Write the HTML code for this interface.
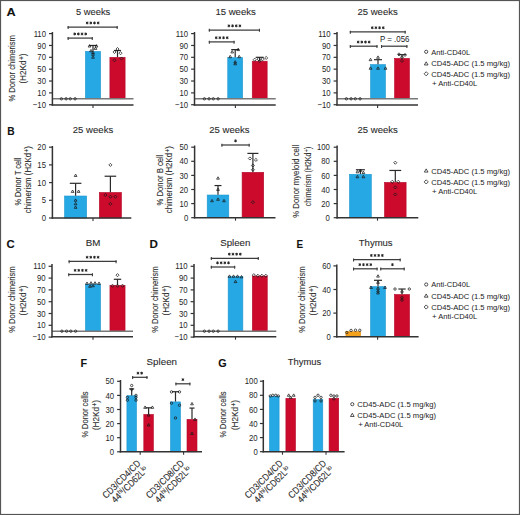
<!DOCTYPE html>
<html><head><meta charset="utf-8"><style>
html,body{margin:0;padding:0;background:#fff;}
svg{display:block;font-family:"Liberation Sans", sans-serif;}
text{stroke:#2a2a2a;stroke-width:0.1px;}
text.lg{stroke:none;fill:#222;}
text.tk{stroke:none;fill:#262626;}
</style></head><body>
<svg width="520" height="515" viewBox="0 0 520 515">
<rect x="0" y="0" width="520" height="515" fill="#fff"/>
<text x="6.60" y="16.10" font-size="11.8" text-anchor="start" font-weight="bold" fill="#111" textLength="9.2" lengthAdjust="spacingAndGlyphs" stroke="#111" stroke-width="0.35">A</text>
<text transform="translate(15.40,68.30) rotate(-90)" x="0" y="0" font-size="9.5" text-anchor="middle" fill="#2a2a2a" textLength="66.5" lengthAdjust="spacingAndGlyphs">% Donor chimerism</text>
<text transform="translate(25.70,68.60) rotate(-90)" x="0" y="0" font-size="9.5" text-anchor="middle" fill="#2a2a2a" textLength="30" lengthAdjust="spacingAndGlyphs">(H2Kd<tspan dx="0.5" dy="-1.9" font-size="7.6">+</tspan><tspan dy="1.9">)</tspan></text>
<text x="93.10" y="14.70" font-size="9.8" text-anchor="middle" font-weight="normal" fill="#2a2a2a" textLength="34.4" lengthAdjust="spacingAndGlyphs">5 weeks</text>
<rect x="85.40" y="51.40" width="15.20" height="47.40" fill="#25a8e4" stroke="#1f97d0" stroke-width="0.6"/>
<rect x="109.90" y="57.33" width="15.20" height="41.47" fill="#cc0a2c" stroke="#b5082a" stroke-width="0.6"/>
<line x1="52.40" y1="98.80" x2="133.50" y2="98.80" stroke="#787878" stroke-width="1.4"/>
<circle cx="61.40" cy="98.80" r="1.2" fill="none" stroke="#1a1a1a" stroke-width="0.75"/>
<circle cx="66.10" cy="98.80" r="1.2" fill="none" stroke="#1a1a1a" stroke-width="0.75"/>
<circle cx="70.30" cy="98.80" r="1.2" fill="none" stroke="#1a1a1a" stroke-width="0.75"/>
<circle cx="75.10" cy="98.80" r="1.2" fill="none" stroke="#1a1a1a" stroke-width="0.75"/>
<line x1="93.00" y1="51.10" x2="93.00" y2="45.47" stroke="#2a2a2a" stroke-width="1.2"/>
<line x1="89.00" y1="45.47" x2="97.00" y2="45.47" stroke="#2a2a2a" stroke-width="1.2"/>
<path d="M89.50 44.63L90.88 47.03L88.12 47.03Z" fill="none" stroke="#1a1a1a" stroke-width="0.75" stroke-linejoin="round"/>
<path d="M96.50 44.63L97.88 47.03L95.12 47.03Z" fill="none" stroke="#1a1a1a" stroke-width="0.75" stroke-linejoin="round"/>
<path d="M95.50 47.00L96.88 49.40L94.12 49.40Z" fill="none" stroke="#1a1a1a" stroke-width="0.75" stroke-linejoin="round"/>
<path d="M91.00 49.37L92.38 51.77L89.62 51.77Z" fill="none" stroke="#1a1a1a" stroke-width="0.75" stroke-linejoin="round"/>
<path d="M93.00 51.14L94.38 53.54L91.62 53.54Z" fill="none" stroke="#1a1a1a" stroke-width="0.75" stroke-linejoin="round"/>
<path d="M93.00 52.92L94.38 55.32L91.62 55.32Z" fill="none" stroke="#1a1a1a" stroke-width="0.75" stroke-linejoin="round"/>
<path d="M93.00 55.88L94.38 58.28L91.62 58.28Z" fill="none" stroke="#1a1a1a" stroke-width="0.75" stroke-linejoin="round"/>
<line x1="117.50" y1="57.03" x2="117.50" y2="50.51" stroke="#2a2a2a" stroke-width="1.2"/>
<line x1="114.00" y1="50.51" x2="121.00" y2="50.51" stroke="#2a2a2a" stroke-width="1.2"/>
<path d="M114.50 50.43L116.06 51.99L114.50 53.55L112.94 51.99Z" fill="none" stroke="#1a1a1a" stroke-width="0.75"/>
<path d="M120.50 51.62L122.06 53.18L120.50 54.74L118.94 53.18Z" fill="none" stroke="#1a1a1a" stroke-width="0.75"/>
<path d="M117.50 47.47L119.06 49.03L117.50 50.59L115.94 49.03Z" fill="none" stroke="#1a1a1a" stroke-width="0.75"/>
<path d="M114.50 58.73L116.06 60.29L114.50 61.85L112.94 60.29Z" fill="none" stroke="#1a1a1a" stroke-width="0.75"/>
<path d="M121.50 56.95L123.06 58.51L121.50 60.07L119.94 58.51Z" fill="none" stroke="#1a1a1a" stroke-width="0.75"/>
<line x1="52.40" y1="32.00" x2="52.40" y2="105.60" stroke="#333333" stroke-width="1.5"/>
<line x1="51.65" y1="104.90" x2="133.50" y2="104.90" stroke="#333333" stroke-width="1.5"/>
<line x1="49.00" y1="104.72" x2="52.40" y2="104.72" stroke="#333333" stroke-width="1.2"/>
<text x="46.00" y="107.82" font-size="9.2" text-anchor="end" font-weight="normal" fill="#2a2a2a" textLength="13.16" lengthAdjust="spacingAndGlyphs" class="tk">−10</text>
<line x1="49.00" y1="92.88" x2="52.40" y2="92.88" stroke="#333333" stroke-width="1.2"/>
<text x="46.00" y="95.97" font-size="9.2" text-anchor="end" font-weight="normal" fill="#2a2a2a" textLength="8.63" lengthAdjust="spacingAndGlyphs" class="tk">10</text>
<line x1="49.00" y1="81.02" x2="52.40" y2="81.02" stroke="#333333" stroke-width="1.2"/>
<text x="46.00" y="84.12" font-size="9.2" text-anchor="end" font-weight="normal" fill="#2a2a2a" textLength="8.63" lengthAdjust="spacingAndGlyphs" class="tk">30</text>
<line x1="49.00" y1="69.17" x2="52.40" y2="69.17" stroke="#333333" stroke-width="1.2"/>
<text x="46.00" y="72.27" font-size="9.2" text-anchor="end" font-weight="normal" fill="#2a2a2a" textLength="8.63" lengthAdjust="spacingAndGlyphs" class="tk">50</text>
<line x1="49.00" y1="57.32" x2="52.40" y2="57.32" stroke="#333333" stroke-width="1.2"/>
<text x="46.00" y="60.42" font-size="9.2" text-anchor="end" font-weight="normal" fill="#2a2a2a" textLength="8.63" lengthAdjust="spacingAndGlyphs" class="tk">70</text>
<line x1="49.00" y1="45.47" x2="52.40" y2="45.47" stroke="#333333" stroke-width="1.2"/>
<text x="46.00" y="48.57" font-size="9.2" text-anchor="end" font-weight="normal" fill="#2a2a2a" textLength="8.63" lengthAdjust="spacingAndGlyphs" class="tk">90</text>
<line x1="49.00" y1="33.62" x2="52.40" y2="33.62" stroke="#333333" stroke-width="1.2"/>
<text x="46.00" y="36.73" font-size="9.2" text-anchor="end" font-weight="normal" fill="#2a2a2a" textLength="12.37" lengthAdjust="spacingAndGlyphs" class="tk">110</text>
<line x1="93.00" y1="104.90" x2="93.00" y2="107.90" stroke="#333333" stroke-width="1.1"/>
<line x1="67.60" y1="27.10" x2="117.70" y2="27.10" stroke="#3c3c3c" stroke-width="1.25"/>
<line x1="68.15" y1="25.90" x2="68.15" y2="28.90" stroke="#3c3c3c" stroke-width="1.1"/>
<line x1="117.15" y1="25.90" x2="117.15" y2="28.90" stroke="#3c3c3c" stroke-width="1.1"/>
<path d="M87.15 21.55L87.15 24.35M85.93 22.25L88.36 23.65M85.93 23.65L88.36 22.25" stroke="#262626" stroke-width="1.0" fill="none"/>
<path d="M90.82 21.55L90.82 24.35M89.60 22.25L92.03 23.65M89.60 23.65L92.03 22.25" stroke="#262626" stroke-width="1.0" fill="none"/>
<path d="M94.49 21.55L94.49 24.35M93.27 22.25L95.70 23.65M93.27 23.65L95.70 22.25" stroke="#262626" stroke-width="1.0" fill="none"/>
<path d="M98.16 21.55L98.16 24.35M96.94 22.25L99.37 23.65M96.94 23.65L99.37 22.25" stroke="#262626" stroke-width="1.0" fill="none"/>
<line x1="67.60" y1="38.10" x2="92.80" y2="38.10" stroke="#3c3c3c" stroke-width="1.25"/>
<line x1="68.15" y1="36.90" x2="68.15" y2="39.90" stroke="#3c3c3c" stroke-width="1.1"/>
<line x1="92.25" y1="36.90" x2="92.25" y2="39.90" stroke="#3c3c3c" stroke-width="1.1"/>
<path d="M74.69 32.55L74.69 35.35M73.48 33.25L75.91 34.65M73.48 34.65L75.91 33.25" stroke="#262626" stroke-width="1.0" fill="none"/>
<path d="M78.36 32.55L78.36 35.35M77.15 33.25L79.58 34.65M77.15 34.65L79.58 33.25" stroke="#262626" stroke-width="1.0" fill="none"/>
<path d="M82.03 32.55L82.03 35.35M80.82 33.25L83.25 34.65M80.82 34.65L83.25 33.25" stroke="#262626" stroke-width="1.0" fill="none"/>
<path d="M85.70 32.55L85.70 35.35M84.49 33.25L86.92 34.65M84.49 34.65L86.92 33.25" stroke="#262626" stroke-width="1.0" fill="none"/>
<text x="235.60" y="14.70" font-size="9.8" text-anchor="middle" font-weight="normal" fill="#2a2a2a" textLength="40.4" lengthAdjust="spacingAndGlyphs">15 weeks</text>
<rect x="227.75" y="57.62" width="14.90" height="41.18" fill="#25a8e4" stroke="#1f97d0" stroke-width="0.6"/>
<rect x="252.25" y="61.18" width="14.90" height="37.62" fill="#cc0a2c" stroke="#b5082a" stroke-width="0.6"/>
<line x1="194.50" y1="98.80" x2="275.70" y2="98.80" stroke="#787878" stroke-width="1.4"/>
<circle cx="204.40" cy="98.80" r="1.2" fill="none" stroke="#1a1a1a" stroke-width="0.75"/>
<circle cx="209.10" cy="98.80" r="1.2" fill="none" stroke="#1a1a1a" stroke-width="0.75"/>
<circle cx="213.30" cy="98.80" r="1.2" fill="none" stroke="#1a1a1a" stroke-width="0.75"/>
<circle cx="218.10" cy="98.80" r="1.2" fill="none" stroke="#1a1a1a" stroke-width="0.75"/>
<line x1="235.20" y1="57.32" x2="235.20" y2="49.62" stroke="#2a2a2a" stroke-width="1.2"/>
<line x1="231.20" y1="49.62" x2="239.20" y2="49.62" stroke="#2a2a2a" stroke-width="1.2"/>
<path d="M232.20 50.55L233.58 52.95L230.82 52.95Z" fill="none" stroke="#1a1a1a" stroke-width="0.75" stroke-linejoin="round"/>
<path d="M238.20 48.18L239.58 50.58L236.82 50.58Z" fill="none" stroke="#1a1a1a" stroke-width="0.75" stroke-linejoin="round"/>
<path d="M230.20 55.29L231.58 57.69L228.82 57.69Z" fill="none" stroke="#1a1a1a" stroke-width="0.75" stroke-linejoin="round"/>
<path d="M239.20 55.29L240.58 57.69L237.82 57.69Z" fill="none" stroke="#1a1a1a" stroke-width="0.75" stroke-linejoin="round"/>
<path d="M235.20 60.62L236.58 63.02L233.82 63.02Z" fill="none" stroke="#1a1a1a" stroke-width="0.75" stroke-linejoin="round"/>
<path d="M235.20 62.40L236.58 64.80L233.82 64.80Z" fill="none" stroke="#1a1a1a" stroke-width="0.75" stroke-linejoin="round"/>
<line x1="259.70" y1="60.88" x2="259.70" y2="57.32" stroke="#2a2a2a" stroke-width="1.2"/>
<line x1="255.70" y1="57.32" x2="263.70" y2="57.32" stroke="#2a2a2a" stroke-width="1.2"/>
<path d="M254.70 58.13L256.26 59.69L254.70 61.25L253.14 59.69Z" fill="none" stroke="#1a1a1a" stroke-width="0.75"/>
<path d="M258.70 57.54L260.26 59.10L258.70 60.66L257.14 59.10Z" fill="none" stroke="#1a1a1a" stroke-width="0.75"/>
<path d="M262.70 57.54L264.26 59.10L262.70 60.66L261.14 59.10Z" fill="none" stroke="#1a1a1a" stroke-width="0.75"/>
<path d="M266.20 56.36L267.76 57.92L266.20 59.48L264.64 57.92Z" fill="none" stroke="#1a1a1a" stroke-width="0.75"/>
<path d="M259.70 59.32L261.26 60.88L259.70 62.44L258.14 60.88Z" fill="none" stroke="#1a1a1a" stroke-width="0.75"/>
<line x1="194.50" y1="32.00" x2="194.50" y2="105.60" stroke="#333333" stroke-width="1.5"/>
<line x1="193.75" y1="104.90" x2="275.70" y2="104.90" stroke="#333333" stroke-width="1.5"/>
<line x1="191.10" y1="104.72" x2="194.50" y2="104.72" stroke="#333333" stroke-width="1.2"/>
<text x="188.10" y="107.82" font-size="9.2" text-anchor="end" font-weight="normal" fill="#2a2a2a" textLength="13.16" lengthAdjust="spacingAndGlyphs" class="tk">−10</text>
<line x1="191.10" y1="92.88" x2="194.50" y2="92.88" stroke="#333333" stroke-width="1.2"/>
<text x="188.10" y="95.97" font-size="9.2" text-anchor="end" font-weight="normal" fill="#2a2a2a" textLength="8.63" lengthAdjust="spacingAndGlyphs" class="tk">10</text>
<line x1="191.10" y1="81.02" x2="194.50" y2="81.02" stroke="#333333" stroke-width="1.2"/>
<text x="188.10" y="84.12" font-size="9.2" text-anchor="end" font-weight="normal" fill="#2a2a2a" textLength="8.63" lengthAdjust="spacingAndGlyphs" class="tk">30</text>
<line x1="191.10" y1="69.17" x2="194.50" y2="69.17" stroke="#333333" stroke-width="1.2"/>
<text x="188.10" y="72.27" font-size="9.2" text-anchor="end" font-weight="normal" fill="#2a2a2a" textLength="8.63" lengthAdjust="spacingAndGlyphs" class="tk">50</text>
<line x1="191.10" y1="57.32" x2="194.50" y2="57.32" stroke="#333333" stroke-width="1.2"/>
<text x="188.10" y="60.42" font-size="9.2" text-anchor="end" font-weight="normal" fill="#2a2a2a" textLength="8.63" lengthAdjust="spacingAndGlyphs" class="tk">70</text>
<line x1="191.10" y1="45.47" x2="194.50" y2="45.47" stroke="#333333" stroke-width="1.2"/>
<text x="188.10" y="48.57" font-size="9.2" text-anchor="end" font-weight="normal" fill="#2a2a2a" textLength="8.63" lengthAdjust="spacingAndGlyphs" class="tk">90</text>
<line x1="191.10" y1="33.62" x2="194.50" y2="33.62" stroke="#333333" stroke-width="1.2"/>
<text x="188.10" y="36.73" font-size="9.2" text-anchor="end" font-weight="normal" fill="#2a2a2a" textLength="12.37" lengthAdjust="spacingAndGlyphs" class="tk">110</text>
<line x1="235.40" y1="104.90" x2="235.40" y2="107.90" stroke="#333333" stroke-width="1.1"/>
<line x1="208.80" y1="30.00" x2="260.00" y2="30.00" stroke="#3c3c3c" stroke-width="1.25"/>
<line x1="209.35" y1="28.80" x2="209.35" y2="31.80" stroke="#3c3c3c" stroke-width="1.1"/>
<line x1="259.45" y1="28.80" x2="259.45" y2="31.80" stroke="#3c3c3c" stroke-width="1.1"/>
<path d="M228.90 24.45L228.90 27.25M227.68 25.15L230.11 26.55M227.68 26.55L230.11 25.15" stroke="#262626" stroke-width="1.0" fill="none"/>
<path d="M232.56 24.45L232.56 27.25M231.35 25.15L233.78 26.55M231.35 26.55L233.78 25.15" stroke="#262626" stroke-width="1.0" fill="none"/>
<path d="M236.24 24.45L236.24 27.25M235.02 25.15L237.45 26.55M235.02 26.55L237.45 25.15" stroke="#262626" stroke-width="1.0" fill="none"/>
<path d="M239.91 24.45L239.91 27.25M238.69 25.15L241.12 26.55M238.69 26.55L241.12 25.15" stroke="#262626" stroke-width="1.0" fill="none"/>
<line x1="208.80" y1="41.90" x2="234.60" y2="41.90" stroke="#3c3c3c" stroke-width="1.25"/>
<line x1="209.35" y1="40.70" x2="209.35" y2="43.70" stroke="#3c3c3c" stroke-width="1.1"/>
<line x1="234.05" y1="40.70" x2="234.05" y2="43.70" stroke="#3c3c3c" stroke-width="1.1"/>
<path d="M216.19 36.35L216.19 39.15M214.98 37.05L217.41 38.45M214.98 38.45L217.41 37.05" stroke="#262626" stroke-width="1.0" fill="none"/>
<path d="M219.86 36.35L219.86 39.15M218.65 37.05L221.08 38.45M218.65 38.45L221.08 37.05" stroke="#262626" stroke-width="1.0" fill="none"/>
<path d="M223.53 36.35L223.53 39.15M222.32 37.05L224.75 38.45M222.32 38.45L224.75 37.05" stroke="#262626" stroke-width="1.0" fill="none"/>
<path d="M227.20 36.35L227.20 39.15M225.99 37.05L228.42 38.45M225.99 38.45L228.42 37.05" stroke="#262626" stroke-width="1.0" fill="none"/>
<text x="377.60" y="14.70" font-size="9.8" text-anchor="middle" font-weight="normal" fill="#2a2a2a" textLength="40.2" lengthAdjust="spacingAndGlyphs">25 weeks</text>
<rect x="370.55" y="64.56" width="14.90" height="34.24" fill="#25a8e4" stroke="#1f97d0" stroke-width="0.6"/>
<rect x="394.55" y="58.40" width="14.90" height="40.40" fill="#cc0a2c" stroke="#b5082a" stroke-width="0.6"/>
<line x1="337.00" y1="98.80" x2="418.00" y2="98.80" stroke="#787878" stroke-width="1.4"/>
<circle cx="346.40" cy="98.80" r="1.2" fill="none" stroke="#1a1a1a" stroke-width="0.75"/>
<circle cx="351.10" cy="98.80" r="1.2" fill="none" stroke="#1a1a1a" stroke-width="0.75"/>
<circle cx="355.30" cy="98.80" r="1.2" fill="none" stroke="#1a1a1a" stroke-width="0.75"/>
<circle cx="360.10" cy="98.80" r="1.2" fill="none" stroke="#1a1a1a" stroke-width="0.75"/>
<line x1="378.00" y1="64.26" x2="378.00" y2="59.69" stroke="#2a2a2a" stroke-width="1.2"/>
<line x1="374.00" y1="59.69" x2="382.00" y2="59.69" stroke="#2a2a2a" stroke-width="1.2"/>
<path d="M370.50 58.25L371.88 60.65L369.12 60.65Z" fill="none" stroke="#1a1a1a" stroke-width="0.75" stroke-linejoin="round"/>
<path d="M378.00 55.88L379.38 58.28L376.62 58.28Z" fill="none" stroke="#1a1a1a" stroke-width="0.75" stroke-linejoin="round"/>
<path d="M370.50 66.85L371.88 69.25L369.12 69.25Z" fill="none" stroke="#1a1a1a" stroke-width="0.75" stroke-linejoin="round"/>
<path d="M378.00 66.85L379.38 69.25L376.62 69.25Z" fill="none" stroke="#1a1a1a" stroke-width="0.75" stroke-linejoin="round"/>
<path d="M385.50 66.85L386.88 69.25L384.12 69.25Z" fill="none" stroke="#1a1a1a" stroke-width="0.75" stroke-linejoin="round"/>
<line x1="402.00" y1="58.10" x2="402.00" y2="54.66" stroke="#2a2a2a" stroke-width="1.2"/>
<line x1="398.00" y1="54.66" x2="406.00" y2="54.66" stroke="#2a2a2a" stroke-width="1.2"/>
<path d="M399.00 52.80L400.56 54.36L399.00 55.92L397.44 54.36Z" fill="none" stroke="#1a1a1a" stroke-width="0.75"/>
<path d="M405.00 53.39L406.56 54.95L405.00 56.52L403.44 54.95Z" fill="none" stroke="#1a1a1a" stroke-width="0.75"/>
<path d="M402.00 55.76L403.56 57.32L402.00 58.88L400.44 57.32Z" fill="none" stroke="#1a1a1a" stroke-width="0.75"/>
<path d="M402.00 59.32L403.56 60.88L402.00 62.44L400.44 60.88Z" fill="none" stroke="#1a1a1a" stroke-width="0.75"/>
<line x1="337.00" y1="32.00" x2="337.00" y2="105.60" stroke="#333333" stroke-width="1.5"/>
<line x1="336.25" y1="104.90" x2="418.00" y2="104.90" stroke="#333333" stroke-width="1.5"/>
<line x1="333.60" y1="104.72" x2="337.00" y2="104.72" stroke="#333333" stroke-width="1.2"/>
<text x="330.60" y="107.82" font-size="9.2" text-anchor="end" font-weight="normal" fill="#2a2a2a" textLength="13.16" lengthAdjust="spacingAndGlyphs" class="tk">−10</text>
<line x1="333.60" y1="92.88" x2="337.00" y2="92.88" stroke="#333333" stroke-width="1.2"/>
<text x="330.60" y="95.97" font-size="9.2" text-anchor="end" font-weight="normal" fill="#2a2a2a" textLength="8.63" lengthAdjust="spacingAndGlyphs" class="tk">10</text>
<line x1="333.60" y1="81.02" x2="337.00" y2="81.02" stroke="#333333" stroke-width="1.2"/>
<text x="330.60" y="84.12" font-size="9.2" text-anchor="end" font-weight="normal" fill="#2a2a2a" textLength="8.63" lengthAdjust="spacingAndGlyphs" class="tk">30</text>
<line x1="333.60" y1="69.17" x2="337.00" y2="69.17" stroke="#333333" stroke-width="1.2"/>
<text x="330.60" y="72.27" font-size="9.2" text-anchor="end" font-weight="normal" fill="#2a2a2a" textLength="8.63" lengthAdjust="spacingAndGlyphs" class="tk">50</text>
<line x1="333.60" y1="57.32" x2="337.00" y2="57.32" stroke="#333333" stroke-width="1.2"/>
<text x="330.60" y="60.42" font-size="9.2" text-anchor="end" font-weight="normal" fill="#2a2a2a" textLength="8.63" lengthAdjust="spacingAndGlyphs" class="tk">70</text>
<line x1="333.60" y1="45.47" x2="337.00" y2="45.47" stroke="#333333" stroke-width="1.2"/>
<text x="330.60" y="48.57" font-size="9.2" text-anchor="end" font-weight="normal" fill="#2a2a2a" textLength="8.63" lengthAdjust="spacingAndGlyphs" class="tk">90</text>
<line x1="333.60" y1="33.62" x2="337.00" y2="33.62" stroke="#333333" stroke-width="1.2"/>
<text x="330.60" y="36.73" font-size="9.2" text-anchor="end" font-weight="normal" fill="#2a2a2a" textLength="12.37" lengthAdjust="spacingAndGlyphs" class="tk">110</text>
<line x1="377.60" y1="104.90" x2="377.60" y2="107.90" stroke="#333333" stroke-width="1.1"/>
<line x1="349.80" y1="31.90" x2="405.70" y2="31.90" stroke="#3c3c3c" stroke-width="1.25"/>
<line x1="350.35" y1="30.70" x2="350.35" y2="33.70" stroke="#3c3c3c" stroke-width="1.1"/>
<line x1="405.15" y1="30.70" x2="405.15" y2="33.70" stroke="#3c3c3c" stroke-width="1.1"/>
<path d="M372.25 26.35L372.25 29.15M371.03 27.05L373.46 28.45M371.03 28.45L373.46 27.05" stroke="#262626" stroke-width="1.0" fill="none"/>
<path d="M375.92 26.35L375.92 29.15M374.70 27.05L377.13 28.45M374.70 28.45L377.13 27.05" stroke="#262626" stroke-width="1.0" fill="none"/>
<path d="M379.58 26.35L379.58 29.15M378.37 27.05L380.80 28.45M378.37 28.45L380.80 27.05" stroke="#262626" stroke-width="1.0" fill="none"/>
<path d="M383.25 26.35L383.25 29.15M382.04 27.05L384.47 28.45M382.04 28.45L384.47 27.05" stroke="#262626" stroke-width="1.0" fill="none"/>
<line x1="349.80" y1="46.20" x2="377.50" y2="46.20" stroke="#3c3c3c" stroke-width="1.25"/>
<line x1="350.35" y1="45.00" x2="350.35" y2="48.00" stroke="#3c3c3c" stroke-width="1.1"/>
<line x1="376.95" y1="45.00" x2="376.95" y2="48.00" stroke="#3c3c3c" stroke-width="1.1"/>
<path d="M358.14 40.65L358.14 43.45M356.93 41.35L359.36 42.75M356.93 42.75L359.36 41.35" stroke="#262626" stroke-width="1.0" fill="none"/>
<path d="M361.81 40.65L361.81 43.45M360.60 41.35L363.03 42.75M360.60 42.75L363.03 41.35" stroke="#262626" stroke-width="1.0" fill="none"/>
<path d="M365.48 40.65L365.48 43.45M364.27 41.35L366.70 42.75M364.27 42.75L366.70 41.35" stroke="#262626" stroke-width="1.0" fill="none"/>
<path d="M369.15 40.65L369.15 43.45M367.94 41.35L370.37 42.75M367.94 42.75L370.37 41.35" stroke="#262626" stroke-width="1.0" fill="none"/>
<line x1="381.00" y1="46.20" x2="407.40" y2="46.20" stroke="#3c3c3c" stroke-width="1.25"/>
<line x1="381.55" y1="45.00" x2="381.55" y2="48.00" stroke="#3c3c3c" stroke-width="1.1"/>
<line x1="406.85" y1="45.00" x2="406.85" y2="48.00" stroke="#3c3c3c" stroke-width="1.1"/>
<text x="394.70" y="41.90" font-size="9.4" text-anchor="middle" font-weight="normal" fill="#333" textLength="29.5" lengthAdjust="spacingAndGlyphs" class="lg">P = .056</text>
<circle cx="426.20" cy="51.80" r="1.6" fill="#fff" stroke="#1a1a1a" stroke-width="0.75"/>
<text x="431.20" y="54.50" font-size="7.9" text-anchor="start" font-weight="normal" fill="#2a2a2a" textLength="39.0" lengthAdjust="spacingAndGlyphs" class="lg">Anti-CD40L</text>
<path d="M426.20 61.78L428.04 64.98L424.36 64.98Z" fill="#fff" stroke="#1a1a1a" stroke-width="0.75" stroke-linejoin="round"/>
<text x="431.20" y="66.40" font-size="7.9" text-anchor="start" font-weight="normal" fill="#2a2a2a" textLength="78.8" lengthAdjust="spacingAndGlyphs" class="lg">CD45-ADC (1.5 mg/kg)</text>
<path d="M426.20 71.72L428.28 73.80L426.20 75.88L424.12 73.80Z" fill="#fff" stroke="#1a1a1a" stroke-width="0.75"/>
<text x="431.20" y="76.50" font-size="7.9" text-anchor="start" font-weight="normal" fill="#2a2a2a" textLength="78.8" lengthAdjust="spacingAndGlyphs" class="lg">CD45-ADC (1.5 mg/kg)</text>
<text x="432.10" y="85.50" font-size="7.9" text-anchor="start" font-weight="normal" fill="#2a2a2a" class="lg">+</text>
<text x="438.20" y="85.50" font-size="7.9" text-anchor="start" font-weight="normal" fill="#2a2a2a" textLength="39.0" lengthAdjust="spacingAndGlyphs" class="lg">Anti-CD40L</text>
<text x="7.20" y="134.60" font-size="11.8" text-anchor="start" font-weight="bold" fill="#111" textLength="7.4" lengthAdjust="spacingAndGlyphs" stroke="#111" stroke-width="0.35">B</text>
<text x="93.00" y="132.80" font-size="9.8" text-anchor="middle" font-weight="normal" fill="#2a2a2a" textLength="40.4" lengthAdjust="spacingAndGlyphs">25 weeks</text>
<rect x="64.55" y="196.00" width="22.10" height="22.00" fill="#25a8e4" stroke="#1f97d0" stroke-width="0.6"/>
<rect x="99.35" y="192.46" width="22.10" height="25.54" fill="#cc0a2c" stroke="#b5082a" stroke-width="0.6"/>
<line x1="75.60" y1="195.70" x2="75.60" y2="183.31" stroke="#2a2a2a" stroke-width="1.2"/>
<line x1="69.80" y1="183.31" x2="81.40" y2="183.31" stroke="#2a2a2a" stroke-width="1.2"/>
<path d="M75.60 174.08L76.98 176.48L74.22 176.48Z" fill="none" stroke="#1a1a1a" stroke-width="0.75" stroke-linejoin="round"/>
<path d="M72.60 190.01L73.98 192.41L71.22 192.41Z" fill="none" stroke="#1a1a1a" stroke-width="0.75" stroke-linejoin="round"/>
<path d="M78.60 190.01L79.98 192.41L77.22 192.41Z" fill="none" stroke="#1a1a1a" stroke-width="0.75" stroke-linejoin="round"/>
<path d="M75.60 198.86L76.98 201.26L74.22 201.26Z" fill="none" stroke="#1a1a1a" stroke-width="0.75" stroke-linejoin="round"/>
<path d="M75.60 202.40L76.98 204.80L74.22 204.80Z" fill="none" stroke="#1a1a1a" stroke-width="0.75" stroke-linejoin="round"/>
<path d="M75.60 205.94L76.98 208.34L74.22 208.34Z" fill="none" stroke="#1a1a1a" stroke-width="0.75" stroke-linejoin="round"/>
<line x1="110.40" y1="192.16" x2="110.40" y2="176.23" stroke="#2a2a2a" stroke-width="1.2"/>
<line x1="104.60" y1="176.23" x2="116.20" y2="176.23" stroke="#2a2a2a" stroke-width="1.2"/>
<path d="M110.40 163.34L111.96 164.90L110.40 166.46L108.84 164.90Z" fill="none" stroke="#1a1a1a" stroke-width="0.75"/>
<path d="M105.40 193.43L106.96 194.99L105.40 196.55L103.84 194.99Z" fill="none" stroke="#1a1a1a" stroke-width="0.75"/>
<path d="M110.40 195.20L111.96 196.76L110.40 198.32L108.84 196.76Z" fill="none" stroke="#1a1a1a" stroke-width="0.75"/>
<path d="M115.40 195.20L116.96 196.76L115.40 198.32L113.84 196.76Z" fill="none" stroke="#1a1a1a" stroke-width="0.75"/>
<path d="M110.40 202.28L111.96 203.84L110.40 205.40L108.84 203.84Z" fill="none" stroke="#1a1a1a" stroke-width="0.75"/>
<line x1="52.40" y1="146.00" x2="52.40" y2="218.70" stroke="#333333" stroke-width="1.5"/>
<line x1="51.65" y1="218.00" x2="131.30" y2="218.00" stroke="#333333" stroke-width="1.5"/>
<line x1="49.00" y1="218.00" x2="52.40" y2="218.00" stroke="#333333" stroke-width="1.2"/>
<text x="46.00" y="221.10" font-size="9.2" text-anchor="end" font-weight="normal" fill="#2a2a2a" textLength="4.32" lengthAdjust="spacingAndGlyphs" class="tk">0</text>
<line x1="49.00" y1="200.30" x2="52.40" y2="200.30" stroke="#333333" stroke-width="1.2"/>
<text x="46.00" y="203.40" font-size="9.2" text-anchor="end" font-weight="normal" fill="#2a2a2a" textLength="4.32" lengthAdjust="spacingAndGlyphs" class="tk">5</text>
<line x1="49.00" y1="182.60" x2="52.40" y2="182.60" stroke="#333333" stroke-width="1.2"/>
<text x="46.00" y="185.70" font-size="9.2" text-anchor="end" font-weight="normal" fill="#2a2a2a" textLength="8.63" lengthAdjust="spacingAndGlyphs" class="tk">10</text>
<line x1="49.00" y1="164.90" x2="52.40" y2="164.90" stroke="#333333" stroke-width="1.2"/>
<text x="46.00" y="168.00" font-size="9.2" text-anchor="end" font-weight="normal" fill="#2a2a2a" textLength="8.63" lengthAdjust="spacingAndGlyphs" class="tk">15</text>
<line x1="49.00" y1="147.20" x2="52.40" y2="147.20" stroke="#333333" stroke-width="1.2"/>
<text x="46.00" y="150.30" font-size="9.2" text-anchor="end" font-weight="normal" fill="#2a2a2a" textLength="8.63" lengthAdjust="spacingAndGlyphs" class="tk">20</text>
<line x1="93.00" y1="218.00" x2="93.00" y2="221.00" stroke="#333333" stroke-width="1.1"/>
<text transform="translate(20.90,181.60) rotate(-90)" x="0" y="0" font-size="9.5" text-anchor="middle" fill="#2a2a2a" textLength="48" lengthAdjust="spacingAndGlyphs">% Donor T cell</text>
<text transform="translate(30.50,179.70) rotate(-90)" x="0" y="0" font-size="9.5" text-anchor="middle" fill="#2a2a2a" textLength="67" lengthAdjust="spacingAndGlyphs">chimerism (H2Kd<tspan dx="0.5" dy="-1.9" font-size="7.6">+</tspan><tspan dy="1.9">)</tspan></text>
<text x="229.40" y="132.60" font-size="9.8" text-anchor="middle" font-weight="normal" fill="#2a2a2a" textLength="40.3" lengthAdjust="spacingAndGlyphs">25 weeks</text>
<rect x="207.20" y="195.02" width="21.60" height="22.68" fill="#25a8e4" stroke="#1f97d0" stroke-width="0.6"/>
<rect x="242.10" y="172.32" width="21.60" height="45.38" fill="#cc0a2c" stroke="#b5082a" stroke-width="0.6"/>
<line x1="218.00" y1="194.72" x2="218.00" y2="185.55" stroke="#2a2a2a" stroke-width="1.2"/>
<line x1="214.50" y1="185.55" x2="221.50" y2="185.55" stroke="#2a2a2a" stroke-width="1.2"/>
<path d="M218.00 176.78L219.38 179.18L216.62 179.18Z" fill="none" stroke="#1a1a1a" stroke-width="0.75" stroke-linejoin="round"/>
<path d="M218.00 188.06L219.38 190.46L216.62 190.46Z" fill="none" stroke="#1a1a1a" stroke-width="0.75" stroke-linejoin="round"/>
<path d="M212.00 199.34L213.38 201.74L210.62 201.74Z" fill="none" stroke="#1a1a1a" stroke-width="0.75" stroke-linejoin="round"/>
<path d="M218.00 197.93L219.38 200.33L216.62 200.33Z" fill="none" stroke="#1a1a1a" stroke-width="0.75" stroke-linejoin="round"/>
<path d="M224.00 199.34L225.38 201.74L222.62 201.74Z" fill="none" stroke="#1a1a1a" stroke-width="0.75" stroke-linejoin="round"/>
<line x1="252.90" y1="172.02" x2="252.90" y2="153.40" stroke="#2a2a2a" stroke-width="1.2"/>
<line x1="247.40" y1="153.40" x2="258.40" y2="153.40" stroke="#2a2a2a" stroke-width="1.2"/>
<path d="M249.90 156.92L251.46 158.48L249.90 160.04L248.34 158.48Z" fill="none" stroke="#1a1a1a" stroke-width="0.75"/>
<path d="M255.90 158.33L257.46 159.89L255.90 161.45L254.34 159.89Z" fill="none" stroke="#1a1a1a" stroke-width="0.75"/>
<path d="M252.90 163.97L254.46 165.53L252.90 167.09L251.34 165.53Z" fill="none" stroke="#1a1a1a" stroke-width="0.75"/>
<path d="M252.90 168.20L254.46 169.76L252.90 171.32L251.34 169.76Z" fill="none" stroke="#1a1a1a" stroke-width="0.75"/>
<path d="M252.90 200.63L254.46 202.19L252.90 203.75L251.34 202.19Z" fill="none" stroke="#1a1a1a" stroke-width="0.75"/>
<line x1="194.60" y1="145.50" x2="194.60" y2="218.40" stroke="#333333" stroke-width="1.5"/>
<line x1="193.85" y1="217.70" x2="275.50" y2="217.70" stroke="#333333" stroke-width="1.5"/>
<line x1="191.20" y1="217.70" x2="194.60" y2="217.70" stroke="#333333" stroke-width="1.2"/>
<text x="188.20" y="220.80" font-size="9.2" text-anchor="end" font-weight="normal" fill="#2a2a2a" textLength="4.32" lengthAdjust="spacingAndGlyphs" class="tk">0</text>
<line x1="191.20" y1="203.60" x2="194.60" y2="203.60" stroke="#333333" stroke-width="1.2"/>
<text x="188.20" y="206.70" font-size="9.2" text-anchor="end" font-weight="normal" fill="#2a2a2a" textLength="8.63" lengthAdjust="spacingAndGlyphs" class="tk">10</text>
<line x1="191.20" y1="189.50" x2="194.60" y2="189.50" stroke="#333333" stroke-width="1.2"/>
<text x="188.20" y="192.60" font-size="9.2" text-anchor="end" font-weight="normal" fill="#2a2a2a" textLength="8.63" lengthAdjust="spacingAndGlyphs" class="tk">20</text>
<line x1="191.20" y1="175.40" x2="194.60" y2="175.40" stroke="#333333" stroke-width="1.2"/>
<text x="188.20" y="178.50" font-size="9.2" text-anchor="end" font-weight="normal" fill="#2a2a2a" textLength="8.63" lengthAdjust="spacingAndGlyphs" class="tk">30</text>
<line x1="191.20" y1="161.30" x2="194.60" y2="161.30" stroke="#333333" stroke-width="1.2"/>
<text x="188.20" y="164.40" font-size="9.2" text-anchor="end" font-weight="normal" fill="#2a2a2a" textLength="8.63" lengthAdjust="spacingAndGlyphs" class="tk">40</text>
<line x1="191.20" y1="147.20" x2="194.60" y2="147.20" stroke="#333333" stroke-width="1.2"/>
<text x="188.20" y="150.30" font-size="9.2" text-anchor="end" font-weight="normal" fill="#2a2a2a" textLength="8.63" lengthAdjust="spacingAndGlyphs" class="tk">50</text>
<line x1="235.50" y1="217.70" x2="235.50" y2="220.70" stroke="#333333" stroke-width="1.1"/>
<line x1="221.40" y1="145.00" x2="249.70" y2="145.00" stroke="#3c3c3c" stroke-width="1.25"/>
<line x1="221.95" y1="143.80" x2="221.95" y2="146.80" stroke="#3c3c3c" stroke-width="1.1"/>
<line x1="249.15" y1="143.80" x2="249.15" y2="146.80" stroke="#3c3c3c" stroke-width="1.1"/>
<path d="M235.55 139.45L235.55 142.25M234.34 140.15L236.76 141.55M234.34 141.55L236.76 140.15" stroke="#262626" stroke-width="1.0" fill="none"/>
<text transform="translate(162.50,180.00) rotate(-90)" x="0" y="0" font-size="9.5" text-anchor="middle" fill="#2a2a2a" textLength="51" lengthAdjust="spacingAndGlyphs">% Donor B cell</text>
<text transform="translate(171.70,179.70) rotate(-90)" x="0" y="0" font-size="9.5" text-anchor="middle" fill="#2a2a2a" textLength="67" lengthAdjust="spacingAndGlyphs">chimerism (H2Kd<tspan dx="0.5" dy="-1.9" font-size="7.6">+</tspan><tspan dy="1.9">)</tspan></text>
<text x="377.70" y="132.80" font-size="9.8" text-anchor="middle" font-weight="normal" fill="#2a2a2a" textLength="40.4" lengthAdjust="spacingAndGlyphs">25 weeks</text>
<rect x="349.50" y="174.29" width="21.80" height="43.41" fill="#25a8e4" stroke="#1f97d0" stroke-width="0.6"/>
<rect x="384.50" y="182.40" width="21.60" height="35.30" fill="#cc0a2c" stroke="#b5082a" stroke-width="0.6"/>
<line x1="360.40" y1="173.99" x2="360.40" y2="169.76" stroke="#2a2a2a" stroke-width="1.2"/>
<line x1="355.90" y1="169.76" x2="364.90" y2="169.76" stroke="#2a2a2a" stroke-width="1.2"/>
<path d="M360.40 169.02L361.78 171.42L359.02 171.42Z" fill="none" stroke="#1a1a1a" stroke-width="0.75" stroke-linejoin="round"/>
<path d="M357.40 170.44L358.78 172.84L356.02 172.84Z" fill="none" stroke="#1a1a1a" stroke-width="0.75" stroke-linejoin="round"/>
<path d="M363.40 171.14L364.78 173.54L362.02 173.54Z" fill="none" stroke="#1a1a1a" stroke-width="0.75" stroke-linejoin="round"/>
<path d="M357.40 175.37L358.78 177.77L356.02 177.77Z" fill="none" stroke="#1a1a1a" stroke-width="0.75" stroke-linejoin="round"/>
<path d="M363.40 175.37L364.78 177.77L362.02 177.77Z" fill="none" stroke="#1a1a1a" stroke-width="0.75" stroke-linejoin="round"/>
<line x1="395.30" y1="182.10" x2="395.30" y2="170.46" stroke="#2a2a2a" stroke-width="1.2"/>
<line x1="389.40" y1="170.46" x2="401.20" y2="170.46" stroke="#2a2a2a" stroke-width="1.2"/>
<path d="M395.30 161.15L396.86 162.71L395.30 164.27L393.74 162.71Z" fill="none" stroke="#1a1a1a" stroke-width="0.75"/>
<path d="M392.30 180.19L393.86 181.75L392.30 183.31L390.74 181.75Z" fill="none" stroke="#1a1a1a" stroke-width="0.75"/>
<path d="M398.30 180.19L399.86 181.75L398.30 183.31L396.74 181.75Z" fill="none" stroke="#1a1a1a" stroke-width="0.75"/>
<path d="M395.30 185.82L396.86 187.38L395.30 188.94L393.74 187.38Z" fill="none" stroke="#1a1a1a" stroke-width="0.75"/>
<path d="M395.30 192.88L396.86 194.44L395.30 196.00L393.74 194.44Z" fill="none" stroke="#1a1a1a" stroke-width="0.75"/>
<line x1="337.10" y1="145.50" x2="337.10" y2="218.40" stroke="#333333" stroke-width="1.5"/>
<line x1="336.35" y1="217.70" x2="418.30" y2="217.70" stroke="#333333" stroke-width="1.5"/>
<line x1="333.70" y1="217.70" x2="337.10" y2="217.70" stroke="#333333" stroke-width="1.2"/>
<text x="329.90" y="220.80" font-size="9.2" text-anchor="end" font-weight="normal" fill="#2a2a2a" textLength="4.32" lengthAdjust="spacingAndGlyphs" class="tk">0</text>
<line x1="333.70" y1="203.60" x2="337.10" y2="203.60" stroke="#333333" stroke-width="1.2"/>
<text x="329.90" y="206.70" font-size="9.2" text-anchor="end" font-weight="normal" fill="#2a2a2a" textLength="8.63" lengthAdjust="spacingAndGlyphs" class="tk">20</text>
<line x1="333.70" y1="189.50" x2="337.10" y2="189.50" stroke="#333333" stroke-width="1.2"/>
<text x="329.90" y="192.60" font-size="9.2" text-anchor="end" font-weight="normal" fill="#2a2a2a" textLength="8.63" lengthAdjust="spacingAndGlyphs" class="tk">40</text>
<line x1="333.70" y1="175.40" x2="337.10" y2="175.40" stroke="#333333" stroke-width="1.2"/>
<text x="329.90" y="178.50" font-size="9.2" text-anchor="end" font-weight="normal" fill="#2a2a2a" textLength="8.63" lengthAdjust="spacingAndGlyphs" class="tk">60</text>
<line x1="333.70" y1="161.30" x2="337.10" y2="161.30" stroke="#333333" stroke-width="1.2"/>
<text x="329.90" y="164.40" font-size="9.2" text-anchor="end" font-weight="normal" fill="#2a2a2a" textLength="8.63" lengthAdjust="spacingAndGlyphs" class="tk">80</text>
<line x1="333.70" y1="147.20" x2="337.10" y2="147.20" stroke="#333333" stroke-width="1.2"/>
<text x="329.90" y="150.30" font-size="9.2" text-anchor="end" font-weight="normal" fill="#2a2a2a" textLength="12.95" lengthAdjust="spacingAndGlyphs" class="tk">100</text>
<line x1="377.50" y1="217.70" x2="377.50" y2="220.70" stroke="#333333" stroke-width="1.1"/>
<text transform="translate(299.40,181.20) rotate(-90)" x="0" y="0" font-size="9.5" text-anchor="middle" fill="#2a2a2a" textLength="73" lengthAdjust="spacingAndGlyphs">% Donor myeloid cell</text>
<text transform="translate(310.50,176.40) rotate(-90)" x="0" y="0" font-size="9.5" text-anchor="middle" fill="#2a2a2a" textLength="59.5" lengthAdjust="spacingAndGlyphs">chimerism (H2Kd<tspan dx="0.5" dy="-1.9" font-size="7.6">+</tspan><tspan dy="1.9">)</tspan></text>
<path d="M426.20 168.88L428.04 172.08L424.36 172.08Z" fill="#fff" stroke="#1a1a1a" stroke-width="0.75" stroke-linejoin="round"/>
<text x="431.20" y="173.50" font-size="7.9" text-anchor="start" font-weight="normal" fill="#2a2a2a" textLength="78.8" lengthAdjust="spacingAndGlyphs" class="lg">CD45-ADC (1.5 mg/kg)</text>
<path d="M426.20 179.82L428.28 181.90L426.20 183.98L424.12 181.90Z" fill="#fff" stroke="#1a1a1a" stroke-width="0.75"/>
<text x="431.20" y="184.60" font-size="7.9" text-anchor="start" font-weight="normal" fill="#2a2a2a" textLength="78.8" lengthAdjust="spacingAndGlyphs" class="lg">CD45-ADC (1.5 mg/kg)</text>
<text x="432.10" y="193.80" font-size="7.9" text-anchor="start" font-weight="normal" fill="#2a2a2a" class="lg">+</text>
<text x="438.20" y="193.80" font-size="7.9" text-anchor="start" font-weight="normal" fill="#2a2a2a" textLength="39.0" lengthAdjust="spacingAndGlyphs" class="lg">Anti-CD40L</text>
<text x="6.60" y="247.80" font-size="11.8" text-anchor="start" font-weight="bold" fill="#111" textLength="8.2" lengthAdjust="spacingAndGlyphs" stroke="#111" stroke-width="0.35">C</text>
<text x="93.00" y="246.00" font-size="9.8" text-anchor="middle" font-weight="normal" fill="#2a2a2a" textLength="14.6" lengthAdjust="spacingAndGlyphs">BM</text>
<text transform="translate(15.10,299.60) rotate(-90)" x="0" y="0" font-size="9.5" text-anchor="middle" fill="#2a2a2a" textLength="66.5" lengthAdjust="spacingAndGlyphs">% Donor chimerism</text>
<text transform="translate(25.90,300.50) rotate(-90)" x="0" y="0" font-size="9.5" text-anchor="middle" fill="#2a2a2a" textLength="30" lengthAdjust="spacingAndGlyphs">(H2Kd<tspan dx="0.5" dy="-1.9" font-size="7.6">+</tspan><tspan dy="1.9">)</tspan></text>
<rect x="85.45" y="284.18" width="15.10" height="47.02" fill="#25a8e4" stroke="#1f97d0" stroke-width="0.6"/>
<rect x="109.95" y="285.48" width="15.10" height="45.72" fill="#cc0a2c" stroke="#b5082a" stroke-width="0.6"/>
<line x1="52.00" y1="331.20" x2="133.00" y2="331.20" stroke="#787878" stroke-width="1.4"/>
<circle cx="61.90" cy="331.20" r="1.2" fill="none" stroke="#1a1a1a" stroke-width="0.75"/>
<circle cx="66.60" cy="331.20" r="1.2" fill="none" stroke="#1a1a1a" stroke-width="0.75"/>
<circle cx="70.80" cy="331.20" r="1.2" fill="none" stroke="#1a1a1a" stroke-width="0.75"/>
<circle cx="75.60" cy="331.20" r="1.2" fill="none" stroke="#1a1a1a" stroke-width="0.75"/>
<path d="M87.00 281.97L88.38 284.37L85.62 284.37Z" fill="none" stroke="#1a1a1a" stroke-width="0.75" stroke-linejoin="round"/>
<path d="M91.00 281.68L92.38 284.07L89.62 284.07Z" fill="none" stroke="#1a1a1a" stroke-width="0.75" stroke-linejoin="round"/>
<path d="M95.00 281.68L96.38 284.07L93.62 284.07Z" fill="none" stroke="#1a1a1a" stroke-width="0.75" stroke-linejoin="round"/>
<path d="M99.00 281.97L100.38 284.37L97.62 284.37Z" fill="none" stroke="#1a1a1a" stroke-width="0.75" stroke-linejoin="round"/>
<path d="M93.00 284.33L94.38 286.73L91.62 286.73Z" fill="none" stroke="#1a1a1a" stroke-width="0.75" stroke-linejoin="round"/>
<path d="M90.00 284.92L91.38 287.32L88.62 287.32Z" fill="none" stroke="#1a1a1a" stroke-width="0.75" stroke-linejoin="round"/>
<line x1="117.50" y1="285.18" x2="117.50" y2="279.28" stroke="#2a2a2a" stroke-width="1.2"/>
<line x1="113.80" y1="279.28" x2="121.20" y2="279.28" stroke="#2a2a2a" stroke-width="1.2"/>
<path d="M117.50 273.59L119.06 275.15L117.50 276.71L115.94 275.15Z" fill="none" stroke="#1a1a1a" stroke-width="0.75"/>
<path d="M112.50 284.21L114.06 285.77L112.50 287.33L110.94 285.77Z" fill="none" stroke="#1a1a1a" stroke-width="0.75"/>
<path d="M117.50 284.21L119.06 285.77L117.50 287.33L115.94 285.77Z" fill="none" stroke="#1a1a1a" stroke-width="0.75"/>
<path d="M122.50 284.21L124.06 285.77L122.50 287.33L120.94 285.77Z" fill="none" stroke="#1a1a1a" stroke-width="0.75"/>
<line x1="52.00" y1="264.00" x2="52.00" y2="337.40" stroke="#333333" stroke-width="1.5"/>
<line x1="51.25" y1="336.70" x2="133.00" y2="336.70" stroke="#333333" stroke-width="1.5"/>
<line x1="48.60" y1="337.10" x2="52.00" y2="337.10" stroke="#333333" stroke-width="1.2"/>
<text x="45.60" y="340.20" font-size="9.2" text-anchor="end" font-weight="normal" fill="#2a2a2a" textLength="13.16" lengthAdjust="spacingAndGlyphs" class="tk">−10</text>
<line x1="48.60" y1="325.30" x2="52.00" y2="325.30" stroke="#333333" stroke-width="1.2"/>
<text x="45.60" y="328.40" font-size="9.2" text-anchor="end" font-weight="normal" fill="#2a2a2a" textLength="8.63" lengthAdjust="spacingAndGlyphs" class="tk">10</text>
<line x1="48.60" y1="313.50" x2="52.00" y2="313.50" stroke="#333333" stroke-width="1.2"/>
<text x="45.60" y="316.60" font-size="9.2" text-anchor="end" font-weight="normal" fill="#2a2a2a" textLength="8.63" lengthAdjust="spacingAndGlyphs" class="tk">30</text>
<line x1="48.60" y1="301.70" x2="52.00" y2="301.70" stroke="#333333" stroke-width="1.2"/>
<text x="45.60" y="304.80" font-size="9.2" text-anchor="end" font-weight="normal" fill="#2a2a2a" textLength="8.63" lengthAdjust="spacingAndGlyphs" class="tk">50</text>
<line x1="48.60" y1="289.90" x2="52.00" y2="289.90" stroke="#333333" stroke-width="1.2"/>
<text x="45.60" y="293.00" font-size="9.2" text-anchor="end" font-weight="normal" fill="#2a2a2a" textLength="8.63" lengthAdjust="spacingAndGlyphs" class="tk">70</text>
<line x1="48.60" y1="278.10" x2="52.00" y2="278.10" stroke="#333333" stroke-width="1.2"/>
<text x="45.60" y="281.20" font-size="9.2" text-anchor="end" font-weight="normal" fill="#2a2a2a" textLength="8.63" lengthAdjust="spacingAndGlyphs" class="tk">90</text>
<line x1="48.60" y1="266.30" x2="52.00" y2="266.30" stroke="#333333" stroke-width="1.2"/>
<text x="45.60" y="269.40" font-size="9.2" text-anchor="end" font-weight="normal" fill="#2a2a2a" textLength="12.37" lengthAdjust="spacingAndGlyphs" class="tk">110</text>
<line x1="93.00" y1="336.70" x2="93.00" y2="339.70" stroke="#333333" stroke-width="1.1"/>
<line x1="68.60" y1="261.40" x2="116.60" y2="261.40" stroke="#3c3c3c" stroke-width="1.25"/>
<line x1="69.15" y1="260.20" x2="69.15" y2="263.20" stroke="#3c3c3c" stroke-width="1.1"/>
<line x1="116.05" y1="260.20" x2="116.05" y2="263.20" stroke="#3c3c3c" stroke-width="1.1"/>
<path d="M87.09 255.85L87.09 258.65M85.88 256.55L88.31 257.95M85.88 257.95L88.31 256.55" stroke="#262626" stroke-width="1.0" fill="none"/>
<path d="M90.77 255.85L90.77 258.65M89.55 256.55L91.98 257.95M89.55 257.95L91.98 256.55" stroke="#262626" stroke-width="1.0" fill="none"/>
<path d="M94.44 255.85L94.44 258.65M93.22 256.55L95.65 257.95M93.22 257.95L95.65 256.55" stroke="#262626" stroke-width="1.0" fill="none"/>
<path d="M98.11 255.85L98.11 258.65M96.89 256.55L99.32 257.95M96.89 257.95L99.32 256.55" stroke="#262626" stroke-width="1.0" fill="none"/>
<line x1="68.20" y1="274.50" x2="93.00" y2="274.50" stroke="#3c3c3c" stroke-width="1.25"/>
<line x1="68.75" y1="273.30" x2="68.75" y2="276.30" stroke="#3c3c3c" stroke-width="1.1"/>
<line x1="92.45" y1="273.30" x2="92.45" y2="276.30" stroke="#3c3c3c" stroke-width="1.1"/>
<path d="M75.09 268.95L75.09 271.75M73.88 269.65L76.31 271.05M73.88 271.05L76.31 269.65" stroke="#262626" stroke-width="1.0" fill="none"/>
<path d="M78.77 268.95L78.77 271.75M77.55 269.65L79.98 271.05M77.55 271.05L79.98 269.65" stroke="#262626" stroke-width="1.0" fill="none"/>
<path d="M82.44 268.95L82.44 271.75M81.22 269.65L83.65 271.05M81.22 271.05L83.65 269.65" stroke="#262626" stroke-width="1.0" fill="none"/>
<path d="M86.11 268.95L86.11 271.75M84.89 269.65L87.32 271.05M84.89 271.05L87.32 269.65" stroke="#262626" stroke-width="1.0" fill="none"/>
<text x="149.40" y="247.70" font-size="11.8" text-anchor="start" font-weight="bold" fill="#111" textLength="8.4" lengthAdjust="spacingAndGlyphs" stroke="#111" stroke-width="0.35">D</text>
<text x="235.30" y="245.80" font-size="9.8" text-anchor="middle" font-weight="normal" fill="#2a2a2a" textLength="30.2" lengthAdjust="spacingAndGlyphs">Spleen</text>
<text transform="translate(158.00,299.60) rotate(-90)" x="0" y="0" font-size="9.5" text-anchor="middle" fill="#2a2a2a" textLength="66.5" lengthAdjust="spacingAndGlyphs">% Donor chimerism</text>
<text transform="translate(168.60,300.50) rotate(-90)" x="0" y="0" font-size="9.5" text-anchor="middle" fill="#2a2a2a" textLength="30" lengthAdjust="spacingAndGlyphs">(H2Kd<tspan dx="0.5" dy="-1.9" font-size="7.6">+</tspan><tspan dy="1.9">)</tspan></text>
<rect x="228.15" y="276.69" width="14.70" height="54.51" fill="#25a8e4" stroke="#1f97d0" stroke-width="0.6"/>
<rect x="252.35" y="276.10" width="14.90" height="55.10" fill="#cc0a2c" stroke="#b5082a" stroke-width="0.6"/>
<line x1="194.00" y1="331.20" x2="276.30" y2="331.20" stroke="#787878" stroke-width="1.4"/>
<circle cx="204.40" cy="331.20" r="1.2" fill="none" stroke="#1a1a1a" stroke-width="0.75"/>
<circle cx="209.10" cy="331.20" r="1.2" fill="none" stroke="#1a1a1a" stroke-width="0.75"/>
<circle cx="213.30" cy="331.20" r="1.2" fill="none" stroke="#1a1a1a" stroke-width="0.75"/>
<circle cx="218.10" cy="331.20" r="1.2" fill="none" stroke="#1a1a1a" stroke-width="0.75"/>
<path d="M229.50 274.89L230.88 277.29L228.12 277.29Z" fill="none" stroke="#1a1a1a" stroke-width="0.75" stroke-linejoin="round"/>
<path d="M233.50 274.89L234.88 277.29L232.12 277.29Z" fill="none" stroke="#1a1a1a" stroke-width="0.75" stroke-linejoin="round"/>
<path d="M237.50 274.89L238.88 277.29L236.12 277.29Z" fill="none" stroke="#1a1a1a" stroke-width="0.75" stroke-linejoin="round"/>
<path d="M241.50 275.48L242.88 277.88L240.12 277.88Z" fill="none" stroke="#1a1a1a" stroke-width="0.75" stroke-linejoin="round"/>
<path d="M235.50 280.20L236.88 282.60L234.12 282.60Z" fill="none" stroke="#1a1a1a" stroke-width="0.75" stroke-linejoin="round"/>
<path d="M253.80 273.59L255.36 275.15L253.80 276.71L252.24 275.15Z" fill="none" stroke="#1a1a1a" stroke-width="0.75"/>
<path d="M257.80 274.18L259.36 275.74L257.80 277.30L256.24 275.74Z" fill="none" stroke="#1a1a1a" stroke-width="0.75"/>
<path d="M261.80 274.18L263.36 275.74L261.80 277.30L260.24 275.74Z" fill="none" stroke="#1a1a1a" stroke-width="0.75"/>
<path d="M265.80 274.18L267.36 275.74L265.80 277.30L264.24 275.74Z" fill="none" stroke="#1a1a1a" stroke-width="0.75"/>
<line x1="194.00" y1="264.00" x2="194.00" y2="337.40" stroke="#333333" stroke-width="1.5"/>
<line x1="193.25" y1="336.70" x2="276.30" y2="336.70" stroke="#333333" stroke-width="1.5"/>
<line x1="190.60" y1="337.10" x2="194.00" y2="337.10" stroke="#333333" stroke-width="1.2"/>
<text x="187.60" y="340.20" font-size="9.2" text-anchor="end" font-weight="normal" fill="#2a2a2a" textLength="13.16" lengthAdjust="spacingAndGlyphs" class="tk">−10</text>
<line x1="190.60" y1="325.30" x2="194.00" y2="325.30" stroke="#333333" stroke-width="1.2"/>
<text x="187.60" y="328.40" font-size="9.2" text-anchor="end" font-weight="normal" fill="#2a2a2a" textLength="8.63" lengthAdjust="spacingAndGlyphs" class="tk">10</text>
<line x1="190.60" y1="313.50" x2="194.00" y2="313.50" stroke="#333333" stroke-width="1.2"/>
<text x="187.60" y="316.60" font-size="9.2" text-anchor="end" font-weight="normal" fill="#2a2a2a" textLength="8.63" lengthAdjust="spacingAndGlyphs" class="tk">30</text>
<line x1="190.60" y1="301.70" x2="194.00" y2="301.70" stroke="#333333" stroke-width="1.2"/>
<text x="187.60" y="304.80" font-size="9.2" text-anchor="end" font-weight="normal" fill="#2a2a2a" textLength="8.63" lengthAdjust="spacingAndGlyphs" class="tk">50</text>
<line x1="190.60" y1="289.90" x2="194.00" y2="289.90" stroke="#333333" stroke-width="1.2"/>
<text x="187.60" y="293.00" font-size="9.2" text-anchor="end" font-weight="normal" fill="#2a2a2a" textLength="8.63" lengthAdjust="spacingAndGlyphs" class="tk">70</text>
<line x1="190.60" y1="278.10" x2="194.00" y2="278.10" stroke="#333333" stroke-width="1.2"/>
<text x="187.60" y="281.20" font-size="9.2" text-anchor="end" font-weight="normal" fill="#2a2a2a" textLength="8.63" lengthAdjust="spacingAndGlyphs" class="tk">90</text>
<line x1="190.60" y1="266.30" x2="194.00" y2="266.30" stroke="#333333" stroke-width="1.2"/>
<text x="187.60" y="269.40" font-size="9.2" text-anchor="end" font-weight="normal" fill="#2a2a2a" textLength="12.37" lengthAdjust="spacingAndGlyphs" class="tk">110</text>
<line x1="235.50" y1="336.70" x2="235.50" y2="339.70" stroke="#333333" stroke-width="1.1"/>
<line x1="210.80" y1="258.30" x2="258.80" y2="258.30" stroke="#3c3c3c" stroke-width="1.25"/>
<line x1="211.35" y1="257.10" x2="211.35" y2="260.10" stroke="#3c3c3c" stroke-width="1.1"/>
<line x1="258.25" y1="257.10" x2="258.25" y2="260.10" stroke="#3c3c3c" stroke-width="1.1"/>
<path d="M229.30 252.75L229.30 255.55M228.08 253.45L230.51 254.85M228.08 254.85L230.51 253.45" stroke="#262626" stroke-width="1.0" fill="none"/>
<path d="M232.97 252.75L232.97 255.55M231.75 253.45L234.18 254.85M231.75 254.85L234.18 253.45" stroke="#262626" stroke-width="1.0" fill="none"/>
<path d="M236.64 252.75L236.64 255.55M235.42 253.45L237.85 254.85M235.42 254.85L237.85 253.45" stroke="#262626" stroke-width="1.0" fill="none"/>
<path d="M240.31 252.75L240.31 255.55M239.09 253.45L241.52 254.85M239.09 254.85L241.52 253.45" stroke="#262626" stroke-width="1.0" fill="none"/>
<line x1="210.80" y1="267.00" x2="235.20" y2="267.00" stroke="#3c3c3c" stroke-width="1.25"/>
<line x1="211.35" y1="265.80" x2="211.35" y2="268.80" stroke="#3c3c3c" stroke-width="1.1"/>
<line x1="234.65" y1="265.80" x2="234.65" y2="268.80" stroke="#3c3c3c" stroke-width="1.1"/>
<path d="M217.50 261.45L217.50 264.25M216.28 262.15L218.71 263.55M216.28 263.55L218.71 262.15" stroke="#262626" stroke-width="1.0" fill="none"/>
<path d="M221.16 261.45L221.16 264.25M219.95 262.15L222.38 263.55M219.95 263.55L222.38 262.15" stroke="#262626" stroke-width="1.0" fill="none"/>
<path d="M224.84 261.45L224.84 264.25M223.62 262.15L226.05 263.55M223.62 263.55L226.05 262.15" stroke="#262626" stroke-width="1.0" fill="none"/>
<path d="M228.50 261.45L228.50 264.25M227.29 262.15L229.72 263.55M227.29 263.55L229.72 262.15" stroke="#262626" stroke-width="1.0" fill="none"/>
<text x="296.40" y="247.70" font-size="11.8" text-anchor="start" font-weight="bold" fill="#111" textLength="6.6" lengthAdjust="spacingAndGlyphs" stroke="#111" stroke-width="0.35">E</text>
<text x="375.70" y="245.60" font-size="9.8" text-anchor="middle" font-weight="normal" fill="#2a2a2a" textLength="33.8" lengthAdjust="spacingAndGlyphs">Thymus</text>
<text transform="translate(304.80,299.60) rotate(-90)" x="0" y="0" font-size="9.5" text-anchor="middle" fill="#2a2a2a" textLength="66.5" lengthAdjust="spacingAndGlyphs">% Donor chimerism</text>
<text transform="translate(315.60,300.50) rotate(-90)" x="0" y="0" font-size="9.5" text-anchor="middle" fill="#2a2a2a" textLength="30" lengthAdjust="spacingAndGlyphs">(H2Kd<tspan dx="0.5" dy="-1.9" font-size="7.6">+</tspan><tspan dy="1.9">)</tspan></text>
<rect x="345.90" y="331.57" width="14.80" height="5.13" fill="#f4a11d" stroke="#e0901a" stroke-width="0.6"/>
<rect x="370.55" y="286.61" width="14.90" height="50.09" fill="#25a8e4" stroke="#1f97d0" stroke-width="0.6"/>
<rect x="394.45" y="294.52" width="15.10" height="42.18" fill="#cc0a2c" stroke="#b5082a" stroke-width="0.6"/>
<circle cx="346.80" cy="332.57" r="1.2" fill="none" stroke="#1a1a1a" stroke-width="0.75"/>
<circle cx="351.10" cy="330.45" r="1.2" fill="none" stroke="#1a1a1a" stroke-width="0.75"/>
<circle cx="355.50" cy="330.21" r="1.2" fill="none" stroke="#1a1a1a" stroke-width="0.75"/>
<circle cx="359.80" cy="330.33" r="1.2" fill="none" stroke="#1a1a1a" stroke-width="0.75"/>
<line x1="378.00" y1="286.31" x2="378.00" y2="280.30" stroke="#2a2a2a" stroke-width="1.2"/>
<line x1="374.00" y1="280.30" x2="382.00" y2="280.30" stroke="#2a2a2a" stroke-width="1.2"/>
<path d="M378.00 274.73L379.38 277.13L376.62 277.13Z" fill="none" stroke="#1a1a1a" stroke-width="0.75" stroke-linejoin="round"/>
<path d="M378.00 280.98L379.38 283.38L376.62 283.38Z" fill="none" stroke="#1a1a1a" stroke-width="0.75" stroke-linejoin="round"/>
<path d="M371.00 286.05L372.38 288.45L369.62 288.45Z" fill="none" stroke="#1a1a1a" stroke-width="0.75" stroke-linejoin="round"/>
<path d="M385.00 286.05L386.38 288.45L383.62 288.45Z" fill="none" stroke="#1a1a1a" stroke-width="0.75" stroke-linejoin="round"/>
<path d="M378.00 286.88L379.38 289.28L376.62 289.28Z" fill="none" stroke="#1a1a1a" stroke-width="0.75" stroke-linejoin="round"/>
<path d="M378.00 289.59L379.38 291.99L376.62 291.99Z" fill="none" stroke="#1a1a1a" stroke-width="0.75" stroke-linejoin="round"/>
<path d="M378.00 291.60L379.38 294.00L376.62 294.00Z" fill="none" stroke="#1a1a1a" stroke-width="0.75" stroke-linejoin="round"/>
<line x1="402.00" y1="294.22" x2="402.00" y2="289.03" stroke="#2a2a2a" stroke-width="1.2"/>
<line x1="398.35" y1="289.03" x2="405.65" y2="289.03" stroke="#2a2a2a" stroke-width="1.2"/>
<circle cx="395.00" cy="289.03" r="1.2" fill="none" stroke="#1a1a1a" stroke-width="0.75"/>
<circle cx="409.30" cy="289.03" r="1.2" fill="none" stroke="#1a1a1a" stroke-width="0.75"/>
<circle cx="402.00" cy="291.86" r="1.2" fill="none" stroke="#1a1a1a" stroke-width="0.75"/>
<circle cx="402.00" cy="297.76" r="1.2" fill="none" stroke="#1a1a1a" stroke-width="0.75"/>
<circle cx="402.00" cy="300.12" r="1.2" fill="none" stroke="#1a1a1a" stroke-width="0.75"/>
<line x1="336.80" y1="264.50" x2="336.80" y2="337.40" stroke="#333333" stroke-width="1.5"/>
<line x1="336.05" y1="336.70" x2="418.60" y2="336.70" stroke="#333333" stroke-width="1.5"/>
<line x1="333.40" y1="336.70" x2="336.80" y2="336.70" stroke="#333333" stroke-width="1.2"/>
<text x="330.80" y="339.80" font-size="9.2" text-anchor="end" font-weight="normal" fill="#2a2a2a" textLength="4.32" lengthAdjust="spacingAndGlyphs" class="tk">0</text>
<line x1="333.40" y1="313.10" x2="336.80" y2="313.10" stroke="#333333" stroke-width="1.2"/>
<text x="330.80" y="316.20" font-size="9.2" text-anchor="end" font-weight="normal" fill="#2a2a2a" textLength="8.63" lengthAdjust="spacingAndGlyphs" class="tk">20</text>
<line x1="333.40" y1="289.50" x2="336.80" y2="289.50" stroke="#333333" stroke-width="1.2"/>
<text x="330.80" y="292.60" font-size="9.2" text-anchor="end" font-weight="normal" fill="#2a2a2a" textLength="8.63" lengthAdjust="spacingAndGlyphs" class="tk">40</text>
<line x1="333.40" y1="265.90" x2="336.80" y2="265.90" stroke="#333333" stroke-width="1.2"/>
<text x="330.80" y="269.00" font-size="9.2" text-anchor="end" font-weight="normal" fill="#2a2a2a" textLength="8.63" lengthAdjust="spacingAndGlyphs" class="tk">60</text>
<line x1="377.60" y1="336.70" x2="377.60" y2="339.70" stroke="#333333" stroke-width="1.1"/>
<line x1="353.00" y1="259.60" x2="400.70" y2="259.60" stroke="#3c3c3c" stroke-width="1.25"/>
<line x1="353.55" y1="258.40" x2="353.55" y2="261.40" stroke="#3c3c3c" stroke-width="1.1"/>
<line x1="400.15" y1="258.40" x2="400.15" y2="261.40" stroke="#3c3c3c" stroke-width="1.1"/>
<path d="M371.35 254.05L371.35 256.85M370.13 254.75L372.56 256.15M370.13 256.15L372.56 254.75" stroke="#262626" stroke-width="1.0" fill="none"/>
<path d="M375.02 254.05L375.02 256.85M373.80 254.75L376.23 256.15M373.80 256.15L376.23 254.75" stroke="#262626" stroke-width="1.0" fill="none"/>
<path d="M378.69 254.05L378.69 256.85M377.47 254.75L379.90 256.15M377.47 256.15L379.90 254.75" stroke="#262626" stroke-width="1.0" fill="none"/>
<path d="M382.36 254.05L382.36 256.85M381.14 254.75L383.57 256.15M381.14 256.15L383.57 254.75" stroke="#262626" stroke-width="1.0" fill="none"/>
<line x1="353.00" y1="268.80" x2="377.60" y2="268.80" stroke="#3c3c3c" stroke-width="1.25"/>
<line x1="353.55" y1="267.60" x2="353.55" y2="270.60" stroke="#3c3c3c" stroke-width="1.1"/>
<line x1="377.05" y1="267.60" x2="377.05" y2="270.60" stroke="#3c3c3c" stroke-width="1.1"/>
<path d="M359.80 263.25L359.80 266.05M358.58 263.95L361.01 265.35M358.58 265.35L361.01 263.95" stroke="#262626" stroke-width="1.0" fill="none"/>
<path d="M363.47 263.25L363.47 266.05M362.25 263.95L364.68 265.35M362.25 265.35L364.68 263.95" stroke="#262626" stroke-width="1.0" fill="none"/>
<path d="M367.13 263.25L367.13 266.05M365.92 263.95L368.35 265.35M365.92 265.35L368.35 263.95" stroke="#262626" stroke-width="1.0" fill="none"/>
<path d="M370.81 263.25L370.81 266.05M369.59 263.95L372.02 265.35M369.59 265.35L372.02 263.95" stroke="#262626" stroke-width="1.0" fill="none"/>
<line x1="380.20" y1="268.80" x2="404.70" y2="268.80" stroke="#3c3c3c" stroke-width="1.25"/>
<line x1="380.75" y1="267.60" x2="380.75" y2="270.60" stroke="#3c3c3c" stroke-width="1.1"/>
<line x1="404.15" y1="267.60" x2="404.15" y2="270.60" stroke="#3c3c3c" stroke-width="1.1"/>
<path d="M392.45 263.25L392.45 266.05M391.24 263.95L393.66 265.35M391.24 265.35L393.66 263.95" stroke="#262626" stroke-width="1.0" fill="none"/>
<circle cx="426.20" cy="284.50" r="1.6" fill="#fff" stroke="#1a1a1a" stroke-width="0.75"/>
<text x="431.20" y="287.20" font-size="7.9" text-anchor="start" font-weight="normal" fill="#2a2a2a" textLength="39.0" lengthAdjust="spacingAndGlyphs" class="lg">Anti-CD40L</text>
<path d="M426.20 293.98L428.04 297.18L424.36 297.18Z" fill="#fff" stroke="#1a1a1a" stroke-width="0.75" stroke-linejoin="round"/>
<text x="431.20" y="298.60" font-size="7.9" text-anchor="start" font-weight="normal" fill="#2a2a2a" textLength="78.8" lengthAdjust="spacingAndGlyphs" class="lg">CD45-ADC (1.5 mg/kg)</text>
<path d="M426.20 304.92L428.28 307.00L426.20 309.08L424.12 307.00Z" fill="#fff" stroke="#1a1a1a" stroke-width="0.75"/>
<text x="431.20" y="309.70" font-size="7.9" text-anchor="start" font-weight="normal" fill="#2a2a2a" textLength="78.8" lengthAdjust="spacingAndGlyphs" class="lg">CD45-ADC (1.5 mg/kg)</text>
<text x="432.10" y="318.50" font-size="7.9" text-anchor="start" font-weight="normal" fill="#2a2a2a" class="lg">+</text>
<text x="438.20" y="318.50" font-size="7.9" text-anchor="start" font-weight="normal" fill="#2a2a2a" textLength="39.0" lengthAdjust="spacingAndGlyphs" class="lg">Anti-CD40L</text>
<text x="80.40" y="366.60" font-size="11.8" text-anchor="start" font-weight="bold" fill="#111" textLength="6.6" lengthAdjust="spacingAndGlyphs" stroke="#111" stroke-width="0.35">F</text>
<text x="161.80" y="365.00" font-size="9.8" text-anchor="middle" font-weight="normal" fill="#2a2a2a" textLength="30.4" lengthAdjust="spacingAndGlyphs">Spleen</text>
<text transform="translate(88.30,414.60) rotate(-90)" x="0" y="0" font-size="9.5" text-anchor="middle" fill="#2a2a2a" textLength="46" lengthAdjust="spacingAndGlyphs">% Donor cells</text>
<text transform="translate(99.00,415.10) rotate(-90)" x="0" y="0" font-size="9.5" text-anchor="middle" fill="#2a2a2a" textLength="30" lengthAdjust="spacingAndGlyphs">(H2Kd<tspan dx="0.5" dy="-1.9" font-size="7.6">+</tspan><tspan dy="1.9">)</tspan></text>
<rect x="126.90" y="395.70" width="9.60" height="56.10" fill="#25a8e4" stroke="#1f97d0" stroke-width="0.6"/>
<rect x="143.80" y="414.45" width="9.60" height="37.35" fill="#cc0a2c" stroke="#b5082a" stroke-width="0.6"/>
<rect x="170.50" y="401.90" width="10.00" height="49.90" fill="#25a8e4" stroke="#1f97d0" stroke-width="0.6"/>
<rect x="187.00" y="419.39" width="10.00" height="32.41" fill="#cc0a2c" stroke="#b5082a" stroke-width="0.6"/>
<line x1="131.70" y1="395.40" x2="131.70" y2="388.91" stroke="#2a2a2a" stroke-width="1.2"/>
<line x1="129.20" y1="388.91" x2="134.20" y2="388.91" stroke="#2a2a2a" stroke-width="1.2"/>
<circle cx="131.70" cy="385.53" r="1.2" fill="none" stroke="#1a1a1a" stroke-width="0.75"/>
<path d="M131.70 391.20L133.08 388.80L130.32 388.80Z" fill="none" stroke="#1a1a1a" stroke-width="0.75" stroke-linejoin="round"/>
<circle cx="136.00" cy="395.40" r="1.2" fill="none" stroke="#1a1a1a" stroke-width="0.75"/>
<circle cx="127.40" cy="397.37" r="1.2" fill="none" stroke="#1a1a1a" stroke-width="0.75"/>
<circle cx="136.00" cy="397.37" r="1.2" fill="none" stroke="#1a1a1a" stroke-width="0.75"/>
<circle cx="127.40" cy="400.19" r="1.2" fill="none" stroke="#1a1a1a" stroke-width="0.75"/>
<circle cx="136.00" cy="400.19" r="1.2" fill="none" stroke="#1a1a1a" stroke-width="0.75"/>
<line x1="148.60" y1="414.15" x2="148.60" y2="407.81" stroke="#2a2a2a" stroke-width="1.2"/>
<line x1="145.60" y1="407.81" x2="151.60" y2="407.81" stroke="#2a2a2a" stroke-width="1.2"/>
<path d="M145.10 405.94L146.48 408.34L143.72 408.34Z" fill="none" stroke="#1a1a1a" stroke-width="0.75" stroke-linejoin="round"/>
<path d="M152.40 405.94L153.78 408.34L151.02 408.34Z" fill="none" stroke="#1a1a1a" stroke-width="0.75" stroke-linejoin="round"/>
<path d="M148.60 413.70L149.98 416.10L147.22 416.10Z" fill="none" stroke="#1a1a1a" stroke-width="0.75" stroke-linejoin="round"/>
<path d="M148.60 423.57L149.98 425.97L147.22 425.97Z" fill="none" stroke="#1a1a1a" stroke-width="0.75" stroke-linejoin="round"/>
<line x1="175.50" y1="401.60" x2="175.50" y2="391.73" stroke="#2a2a2a" stroke-width="1.2"/>
<line x1="172.00" y1="391.73" x2="179.00" y2="391.73" stroke="#2a2a2a" stroke-width="1.2"/>
<circle cx="171.50" cy="391.88" r="1.2" fill="none" stroke="#1a1a1a" stroke-width="0.75"/>
<circle cx="179.50" cy="391.88" r="1.2" fill="none" stroke="#1a1a1a" stroke-width="0.75"/>
<circle cx="171.50" cy="403.16" r="1.2" fill="none" stroke="#1a1a1a" stroke-width="0.75"/>
<circle cx="179.50" cy="405.27" r="1.2" fill="none" stroke="#1a1a1a" stroke-width="0.75"/>
<circle cx="175.50" cy="417.96" r="1.2" fill="none" stroke="#1a1a1a" stroke-width="0.75"/>
<line x1="192.00" y1="419.09" x2="192.00" y2="408.09" stroke="#2a2a2a" stroke-width="1.2"/>
<line x1="189.50" y1="408.09" x2="194.50" y2="408.09" stroke="#2a2a2a" stroke-width="1.2"/>
<path d="M192.00 402.42L193.38 404.82L190.62 404.82Z" fill="none" stroke="#1a1a1a" stroke-width="0.75" stroke-linejoin="round"/>
<path d="M195.00 417.93L196.38 420.33L193.62 420.33Z" fill="none" stroke="#1a1a1a" stroke-width="0.75" stroke-linejoin="round"/>
<path d="M192.00 432.03L193.38 434.43L190.62 434.43Z" fill="none" stroke="#1a1a1a" stroke-width="0.75" stroke-linejoin="round"/>
<line x1="120.50" y1="380.00" x2="120.50" y2="452.50" stroke="#333333" stroke-width="1.5"/>
<line x1="119.75" y1="451.80" x2="202.00" y2="451.80" stroke="#333333" stroke-width="1.5"/>
<line x1="117.10" y1="451.80" x2="120.50" y2="451.80" stroke="#333333" stroke-width="1.2"/>
<text x="114.10" y="454.90" font-size="9.2" text-anchor="end" font-weight="normal" fill="#2a2a2a" textLength="4.32" lengthAdjust="spacingAndGlyphs" class="tk">0</text>
<line x1="117.10" y1="437.70" x2="120.50" y2="437.70" stroke="#333333" stroke-width="1.2"/>
<text x="114.10" y="440.80" font-size="9.2" text-anchor="end" font-weight="normal" fill="#2a2a2a" textLength="8.63" lengthAdjust="spacingAndGlyphs" class="tk">10</text>
<line x1="117.10" y1="423.60" x2="120.50" y2="423.60" stroke="#333333" stroke-width="1.2"/>
<text x="114.10" y="426.70" font-size="9.2" text-anchor="end" font-weight="normal" fill="#2a2a2a" textLength="8.63" lengthAdjust="spacingAndGlyphs" class="tk">20</text>
<line x1="117.10" y1="409.50" x2="120.50" y2="409.50" stroke="#333333" stroke-width="1.2"/>
<text x="114.10" y="412.60" font-size="9.2" text-anchor="end" font-weight="normal" fill="#2a2a2a" textLength="8.63" lengthAdjust="spacingAndGlyphs" class="tk">30</text>
<line x1="117.10" y1="395.40" x2="120.50" y2="395.40" stroke="#333333" stroke-width="1.2"/>
<text x="114.10" y="398.50" font-size="9.2" text-anchor="end" font-weight="normal" fill="#2a2a2a" textLength="8.63" lengthAdjust="spacingAndGlyphs" class="tk">40</text>
<line x1="117.10" y1="381.30" x2="120.50" y2="381.30" stroke="#333333" stroke-width="1.2"/>
<text x="114.10" y="384.40" font-size="9.2" text-anchor="end" font-weight="normal" fill="#2a2a2a" textLength="8.63" lengthAdjust="spacingAndGlyphs" class="tk">50</text>
<line x1="140.20" y1="451.80" x2="140.20" y2="454.80" stroke="#333333" stroke-width="1.1"/>
<line x1="183.60" y1="451.80" x2="183.60" y2="454.80" stroke="#333333" stroke-width="1.1"/>
<line x1="132.10" y1="377.30" x2="147.50" y2="377.30" stroke="#3c3c3c" stroke-width="1.25"/>
<line x1="132.65" y1="376.10" x2="132.65" y2="379.10" stroke="#3c3c3c" stroke-width="1.1"/>
<line x1="146.95" y1="376.10" x2="146.95" y2="379.10" stroke="#3c3c3c" stroke-width="1.1"/>
<path d="M137.97 371.75L137.97 374.55M136.75 372.45L139.18 373.85M136.75 373.85L139.18 372.45" stroke="#262626" stroke-width="1.0" fill="none"/>
<path d="M141.63 371.75L141.63 374.55M140.42 372.45L142.85 373.85M140.42 373.85L142.85 372.45" stroke="#262626" stroke-width="1.0" fill="none"/>
<line x1="175.40" y1="383.80" x2="190.40" y2="383.80" stroke="#3c3c3c" stroke-width="1.25"/>
<line x1="175.95" y1="382.60" x2="175.95" y2="385.60" stroke="#3c3c3c" stroke-width="1.1"/>
<line x1="189.85" y1="382.60" x2="189.85" y2="385.60" stroke="#3c3c3c" stroke-width="1.1"/>
<path d="M182.90 378.25L182.90 381.05M181.69 378.95L184.11 380.35M181.69 380.35L184.11 378.95" stroke="#262626" stroke-width="1.0" fill="none"/>
<text x="218.30" y="366.60" font-size="11.8" text-anchor="start" font-weight="bold" fill="#111" textLength="8.4" lengthAdjust="spacingAndGlyphs" stroke="#111" stroke-width="0.35">G</text>
<text x="304.50" y="365.00" font-size="9.8" text-anchor="middle" font-weight="normal" fill="#2a2a2a" textLength="33.4" lengthAdjust="spacingAndGlyphs">Thymus</text>
<text transform="translate(226.30,414.60) rotate(-90)" x="0" y="0" font-size="9.5" text-anchor="middle" fill="#2a2a2a" textLength="46" lengthAdjust="spacingAndGlyphs">% Donor cells</text>
<text transform="translate(238.00,415.10) rotate(-90)" x="0" y="0" font-size="9.5" text-anchor="middle" fill="#2a2a2a" textLength="30" lengthAdjust="spacingAndGlyphs">(H2Kd<tspan dx="0.5" dy="-1.9" font-size="7.6">+</tspan><tspan dy="1.9">)</tspan></text>
<rect x="269.50" y="396.31" width="9.60" height="55.39" fill="#25a8e4" stroke="#1f97d0" stroke-width="0.6"/>
<rect x="285.90" y="398.42" width="9.60" height="53.28" fill="#cc0a2c" stroke="#b5082a" stroke-width="0.6"/>
<rect x="313.20" y="399.48" width="9.60" height="52.22" fill="#25a8e4" stroke="#1f97d0" stroke-width="0.6"/>
<rect x="329.10" y="398.42" width="9.60" height="53.28" fill="#cc0a2c" stroke="#b5082a" stroke-width="0.6"/>
<circle cx="270.30" cy="396.00" r="1.2" fill="none" stroke="#1a1a1a" stroke-width="0.75"/>
<circle cx="272.80" cy="395.30" r="1.2" fill="none" stroke="#1a1a1a" stroke-width="0.75"/>
<circle cx="275.80" cy="395.30" r="1.2" fill="none" stroke="#1a1a1a" stroke-width="0.75"/>
<circle cx="278.30" cy="396.00" r="1.2" fill="none" stroke="#1a1a1a" stroke-width="0.75"/>
<path d="M288.70 393.86L290.08 396.26L287.32 396.26Z" fill="none" stroke="#1a1a1a" stroke-width="0.75" stroke-linejoin="round"/>
<path d="M293.70 393.86L295.08 396.26L292.32 396.26Z" fill="none" stroke="#1a1a1a" stroke-width="0.75" stroke-linejoin="round"/>
<path d="M290.70 395.97L292.08 398.37L289.32 398.37Z" fill="none" stroke="#1a1a1a" stroke-width="0.75" stroke-linejoin="round"/>
<circle cx="318.00" cy="395.30" r="1.2" fill="none" stroke="#1a1a1a" stroke-width="0.75"/>
<circle cx="315.00" cy="397.41" r="1.2" fill="none" stroke="#1a1a1a" stroke-width="0.75"/>
<circle cx="321.00" cy="397.41" r="1.2" fill="none" stroke="#1a1a1a" stroke-width="0.75"/>
<circle cx="315.00" cy="400.94" r="1.2" fill="none" stroke="#1a1a1a" stroke-width="0.75"/>
<circle cx="321.00" cy="400.94" r="1.2" fill="none" stroke="#1a1a1a" stroke-width="0.75"/>
<circle cx="330.90" cy="395.30" r="1.2" fill="none" stroke="#1a1a1a" stroke-width="0.75"/>
<circle cx="333.90" cy="396.00" r="1.2" fill="none" stroke="#1a1a1a" stroke-width="0.75"/>
<circle cx="336.90" cy="396.00" r="1.2" fill="none" stroke="#1a1a1a" stroke-width="0.75"/>
<circle cx="333.90" cy="398.82" r="1.2" fill="none" stroke="#1a1a1a" stroke-width="0.75"/>
<line x1="263.30" y1="380.00" x2="263.30" y2="452.40" stroke="#333333" stroke-width="1.5"/>
<line x1="262.55" y1="451.70" x2="344.60" y2="451.70" stroke="#333333" stroke-width="1.5"/>
<line x1="259.90" y1="451.70" x2="263.30" y2="451.70" stroke="#333333" stroke-width="1.2"/>
<text x="257.70" y="454.80" font-size="9.2" text-anchor="end" font-weight="normal" fill="#2a2a2a" textLength="4.32" lengthAdjust="spacingAndGlyphs" class="tk">0</text>
<line x1="259.90" y1="437.60" x2="263.30" y2="437.60" stroke="#333333" stroke-width="1.2"/>
<text x="257.70" y="440.70" font-size="9.2" text-anchor="end" font-weight="normal" fill="#2a2a2a" textLength="8.63" lengthAdjust="spacingAndGlyphs" class="tk">20</text>
<line x1="259.90" y1="423.50" x2="263.30" y2="423.50" stroke="#333333" stroke-width="1.2"/>
<text x="257.70" y="426.60" font-size="9.2" text-anchor="end" font-weight="normal" fill="#2a2a2a" textLength="8.63" lengthAdjust="spacingAndGlyphs" class="tk">40</text>
<line x1="259.90" y1="409.40" x2="263.30" y2="409.40" stroke="#333333" stroke-width="1.2"/>
<text x="257.70" y="412.50" font-size="9.2" text-anchor="end" font-weight="normal" fill="#2a2a2a" textLength="8.63" lengthAdjust="spacingAndGlyphs" class="tk">60</text>
<line x1="259.90" y1="395.30" x2="263.30" y2="395.30" stroke="#333333" stroke-width="1.2"/>
<text x="257.70" y="398.40" font-size="9.2" text-anchor="end" font-weight="normal" fill="#2a2a2a" textLength="8.63" lengthAdjust="spacingAndGlyphs" class="tk">80</text>
<line x1="259.90" y1="381.20" x2="263.30" y2="381.20" stroke="#333333" stroke-width="1.2"/>
<text x="257.70" y="384.30" font-size="9.2" text-anchor="end" font-weight="normal" fill="#2a2a2a" textLength="12.95" lengthAdjust="spacingAndGlyphs" class="tk">100</text>
<line x1="282.50" y1="451.70" x2="282.50" y2="454.70" stroke="#333333" stroke-width="1.1"/>
<line x1="326.00" y1="451.70" x2="326.00" y2="454.70" stroke="#333333" stroke-width="1.1"/>
<circle cx="352.30" cy="404.20" r="1.6" fill="#fff" stroke="#1a1a1a" stroke-width="0.75"/>
<text x="357.30" y="406.90" font-size="7.9" text-anchor="start" font-weight="normal" fill="#2a2a2a" textLength="78.8" lengthAdjust="spacingAndGlyphs" class="lg">CD45-ADC (1.5 mg/kg)</text>
<path d="M352.30 413.28L354.14 416.48L350.46 416.48Z" fill="#fff" stroke="#1a1a1a" stroke-width="0.75" stroke-linejoin="round"/>
<text x="357.30" y="417.90" font-size="7.9" text-anchor="start" font-weight="normal" fill="#2a2a2a" textLength="78.8" lengthAdjust="spacingAndGlyphs" class="lg">CD45-ADC (1.5 mg/kg)</text>
<text x="358.20" y="426.70" font-size="7.9" text-anchor="start" font-weight="normal" fill="#2a2a2a" class="lg">+</text>
<text x="364.30" y="426.70" font-size="7.9" text-anchor="start" font-weight="normal" fill="#2a2a2a" textLength="39.0" lengthAdjust="spacingAndGlyphs" class="lg">Anti-CD40L</text>
<text transform="translate(141.25,464.10) rotate(-45)" font-size="9.6" text-anchor="end" fill="#2a2a2a" textLength="49.5" lengthAdjust="spacingAndGlyphs">CD3/CD4/CD</text>
<text transform="translate(148.75,470.20) rotate(-45)" font-size="9.6" text-anchor="end" fill="#2a2a2a"><tspan textLength="9.6" lengthAdjust="spacingAndGlyphs">44</tspan><tspan dy="-3.2" font-size="6.2">hi</tspan><tspan dy="3.2" textLength="28" lengthAdjust="spacingAndGlyphs">/CD62L</tspan><tspan dy="-3.2" font-size="6.2">lo</tspan></text>
<text transform="translate(184.65,464.10) rotate(-45)" font-size="9.6" text-anchor="end" fill="#2a2a2a" textLength="49.5" lengthAdjust="spacingAndGlyphs">CD3/CD8/CD</text>
<text transform="translate(192.15,470.20) rotate(-45)" font-size="9.6" text-anchor="end" fill="#2a2a2a"><tspan textLength="9.6" lengthAdjust="spacingAndGlyphs">44</tspan><tspan dy="-3.2" font-size="6.2">hi</tspan><tspan dy="3.2" textLength="28" lengthAdjust="spacingAndGlyphs">/CD62L</tspan><tspan dy="-3.2" font-size="6.2">lo</tspan></text>
<text transform="translate(283.55,464.00) rotate(-45)" font-size="9.6" text-anchor="end" fill="#2a2a2a" textLength="49.5" lengthAdjust="spacingAndGlyphs">CD3/CD4/CD</text>
<text transform="translate(291.05,470.10) rotate(-45)" font-size="9.6" text-anchor="end" fill="#2a2a2a"><tspan textLength="9.6" lengthAdjust="spacingAndGlyphs">44</tspan><tspan dy="-3.2" font-size="6.2">hi</tspan><tspan dy="3.2" textLength="28" lengthAdjust="spacingAndGlyphs">/CD62L</tspan><tspan dy="-3.2" font-size="6.2">lo</tspan></text>
<text transform="translate(327.05,464.00) rotate(-45)" font-size="9.6" text-anchor="end" fill="#2a2a2a" textLength="49.5" lengthAdjust="spacingAndGlyphs">CD3/CD8/CD</text>
<text transform="translate(334.55,470.10) rotate(-45)" font-size="9.6" text-anchor="end" fill="#2a2a2a"><tspan textLength="9.6" lengthAdjust="spacingAndGlyphs">44</tspan><tspan dy="-3.2" font-size="6.2">hi</tspan><tspan dy="3.2" textLength="28" lengthAdjust="spacingAndGlyphs">/CD62L</tspan><tspan dy="-3.2" font-size="6.2">lo</tspan></text>
<rect x="0.5" y="0.5" width="519" height="514" fill="none" stroke="#555" stroke-width="1.2"/>
</svg>
</body></html>
